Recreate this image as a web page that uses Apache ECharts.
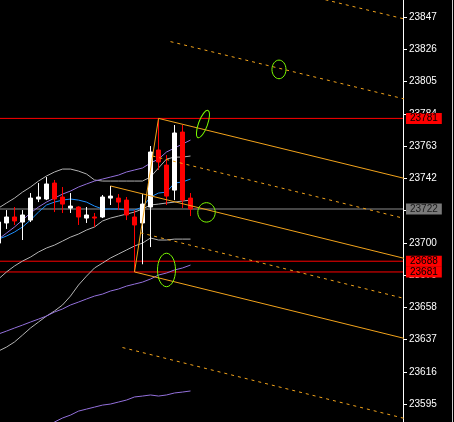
<!DOCTYPE html>
<html><head><meta charset="utf-8">
<script src="https://cdn.jsdelivr.net/npm/echarts@6/dist/echarts.min.js"></script>
<style>html,body{margin:0;padding:0;background:#000;overflow:hidden}#c{width:454px;height:422px}</style>
</head><body><div id="c"></div>
<script>
// ---- candles (bar index 0..24) ----
const opens  = [23699.8,23712.9,23716.8,23713.5,23714.8,23728.5,23728.5,23738.9,23729.8,23722.6,23723.3,23716.1,23716.8,23716.8,23729.1,23729.1,23727.8,23716.8,23712.9,23723.3,23760.4,23750.6,23734.3,23772.1,23729.1];
const closes = [23713.5,23716.8,23714.2,23718.1,23729.1,23729.8,23738.3,23728.5,23725.2,23723.9,23716.8,23718.1,23716.1,23729.8,23730.4,23726.5,23718.1,23711.6,23725.2,23759.1,23752.6,23730.4,23771.5,23727.8,23722.0];
const lows   = [23697.9,23709.0,23711.6,23701.8,23713.5,23726.5,23727.8,23720.0,23719.4,23719.4,23711.6,23712.9,23710.3,23716.1,23724.6,23721.3,23714.8,23681.0,23686.0,23697.2,23747.4,23724.6,23727.8,23722.6,23717.4];
const highs  = [23716.1,23721.3,23723.3,23721.3,23732.4,23738.9,23742.8,23740.9,23736.3,23732.4,23723.8,23723.3,23719.4,23731.1,23737.0,23731.7,23729.8,23721.3,23731.7,23763.0,23781.0,23757.1,23776.7,23776.7,23732.4];

// ---- indicator lines (one value per bar) ----
const maBlue = [23702.4,23704.4,23707.0,23710.3,23714.8,23720.0,23724.6,23726.5,23727.8,23728.5,23727.8,23726.5,23723.9,23722.0,23722.0,23722.0,23721.3,23721.3,23723.3,23729.8,23732.4,23733.0,23738.9,23739.6,23741.5];
const maPurple = [23702.4,23706.3,23710.3,23714.8,23719.4,23723.3,23726.5,23729.1,23731.7,23733.7,23736.3,23738.3,23740.2,23741.5,23742.8,23744.1,23746.1,23747.4,23748.7,23751.9,23754.5,23759.1,23761.7,23764.3,23766.9];
const bbUpper = [23722.6,23725.9,23729.1,23733.0,23736.3,23740.2,23743.5,23746.1,23748.0,23748.0,23746.7,23744.8,23740.9,23740.2,23740.2,23740.2,23740.2,23740.2,23740.2,23742.8,23748.7,23754.5,23755.8,23755.8,23756.5];
const bbMiddle = [23676.4,23681.0,23684.9,23688.1,23690.7,23694.0,23696.6,23698.5,23701.1,23703.7,23705.7,23708.3,23710.3,23714.2,23716.1,23717.4,23718.7,23720.0,23722.0,23724.6,23725.2,23725.9,23726.5,23727.2,23727.8];
const bbLower = [23629.5,23632.1,23635.4,23639.9,23644.5,23648.4,23652.3,23655.6,23659.5,23665.3,23672.5,23678.3,23683.6,23686.8,23690.1,23692.7,23695.3,23697.9,23699.8,23703.1,23701.8,23701.8,23702.4,23702.4,23702.4];
const maSlow = [23640.6,23642.5,23644.5,23646.4,23648.4,23650.3,23652.3,23654.9,23656.9,23659.5,23661.4,23663.4,23665.3,23666.6,23668.6,23669.9,23671.8,23673.1,23674.4,23676.4,23679.0,23680.3,23682.3,23683.6,23685.5];
const maLow = [null,null,null,null,null,null,23580.7,23583.3,23585.9,23587.8,23590.4,23591.7,23593.0,23594.3,23595.0,23596.3,23597.6,23599.6,23600.2,23600.9,23600.2,23600.9,23602.2,23602.8,23603.5];

// ---- horizontal levels ----
const redLevels = [23781, 23688, 23681];
const bidPrice = 23722;

// ---- y-axis: visible range and tick labels ----
const yMin = 23583.3, yMax = 23858.1;
const tickLabels = [23595,23616,23637,23658,23679,23700,23721,23742,23763,23784,23805,23826,23847];

// ---- pitchfork lines: [[barIndex, price], [barIndex, price]] ----
const forkSolid = [
  [[20,23781.0],[17,23681.0]],
  [[20,23781.0],[51,23741.6]],
  [[14,23737.0],[51,23689.5]],
  [[17,23681.0],[51,23637.4]]
];
const forkDashed = [
  [[23,23880.9],[51,23845.4]],
  [[21.5,23831.0],[51,23793.3]],
  [[19.25,23756.5],[51,23715.5]],
  [[17.75,23706.5],[51,23663.4]],
  [[15.5,23631.8],[51,23585.3]]
];
// ---- ellipses: [barIndex, price, radiusBars, radiusPrice, rotationDeg] ----
const ellipses = [
  [35.06,23812.9,0.875,6.06,0],
  [25.56,23777.3,0.5625,9.44,-20],
  [26.0,23719.8,1.09,6.32,0],
  [21.0,23682.3,1.125,10.9,0]
];

const FONT = "'Liberation Sans Narrow','Liberation Sans',Arial,sans-serif";
const idx = a => a.map((v,i)=> v==null ? [i,null] : [i,v]);
const candleData = opens.map((o,i)=>[i,o,closes[i],lows[i],highs[i]]);
const X0 = 0.1875, X1 = 50.5625;

function lineSeries(data, color, opts){
  return Object.assign({type:'line', data, showSymbol:false, symbol:'none', silent:true, animation:false,
    lineStyle:{color, width:1}, z:3}, opts||{});
}

const series = [];
const mkLevel = (v, lineColor, bg, fg) => lineSeries([[X0,v],[X1,v]], lineColor, {z:2,
  endLabel:{show:true, distance:3, formatter:()=>String(v), backgroundColor:bg, color:fg,
    fontFamily:FONT, fontSize:10, padding:[1,4,0,4], lineHeight:10}});
series.push(mkLevel(bidPrice,'#8c8c8c','#7a7a7a','#1a1a1a'));
redLevels.forEach(v=>series.push(mkLevel(v,'#ff0000','#ff0000','#000000')));

series.push(lineSeries(idx(bbUpper),'#b4b4b4'));
series.push(lineSeries(idx(bbMiddle),'#b4b4b4'));
series.push(lineSeries(idx(bbLower),'#b4b4b4'));
series.push(lineSeries(idx(maSlow),'#9370db'));
series.push(lineSeries(idx(maLow),'#9370db'));
series.push(lineSeries(idx(maPurple),'#9370db'));
series.push(lineSeries(idx(maBlue),'#1e90ff'));

series.push({
  type:'candlestick', data:candleData, encode:{x:0,y:[1,2,3,4]}, barWidth:4, animation:false, silent:true, z:4,
  itemStyle:{color:'#ffffff', color0:'#ff0000', borderColor:'#ffffff', borderColor0:'#ff0000', borderWidth:1}
});

forkSolid.forEach(d=>series.push(lineSeries(d,'#f2a31b',{z:5})));
forkDashed.forEach(d=>series.push(lineSeries(d,'#f2a31b',{z:5, lineStyle:{color:'#f2a31b', width:1, type:[3,4]}})));

series.push({
  type:'custom', data:ellipses, silent:true, animation:false, z:6,
  renderItem(params, api){
    const c = api.coord([api.value(0), api.value(1)]);
    const s = api.size([api.value(2), api.value(3)]);
    return {type:'ellipse', x:c[0], y:c[1], rotation:api.value(4)*Math.PI/180,
      shape:{cx:0, cy:0, rx:s[0], ry:s[1]},
      style:{fill:null, stroke:'#7cfc00', lineWidth:1}};
  }
});

const chart = echarts.init(document.getElementById('c'), null, {renderer:'canvas'});
chart.setOption({
  backgroundColor:'#000',
  animation:false,
  grid:{left:0, right:51, top:0, bottom:0, containLabel:false},
  xAxis:{type:'value', min:X0, max:X1, show:false},
  yAxis:{type:'value', position:'right', min:yMin, max:yMax,
    axisLine:{show:true, lineStyle:{color:'#ffffff', width:1}},
    axisTick:{show:true, length:4, lineStyle:{color:'#ffffff'}, customValues:tickLabels},
    axisLabel:{color:'#ffffff', fontFamily:FONT, fontSize:10, margin:6, customValues:tickLabels, formatter:v=>String(Math.round(v))},
    splitLine:{show:false}},
  graphic:[{type:'line', shape:{x1:452.5,y1:0,x2:452.5,y2:422}, style:{stroke:'#cfcfcf', lineWidth:1}, silent:true}],
  series
});
</script></body></html>
